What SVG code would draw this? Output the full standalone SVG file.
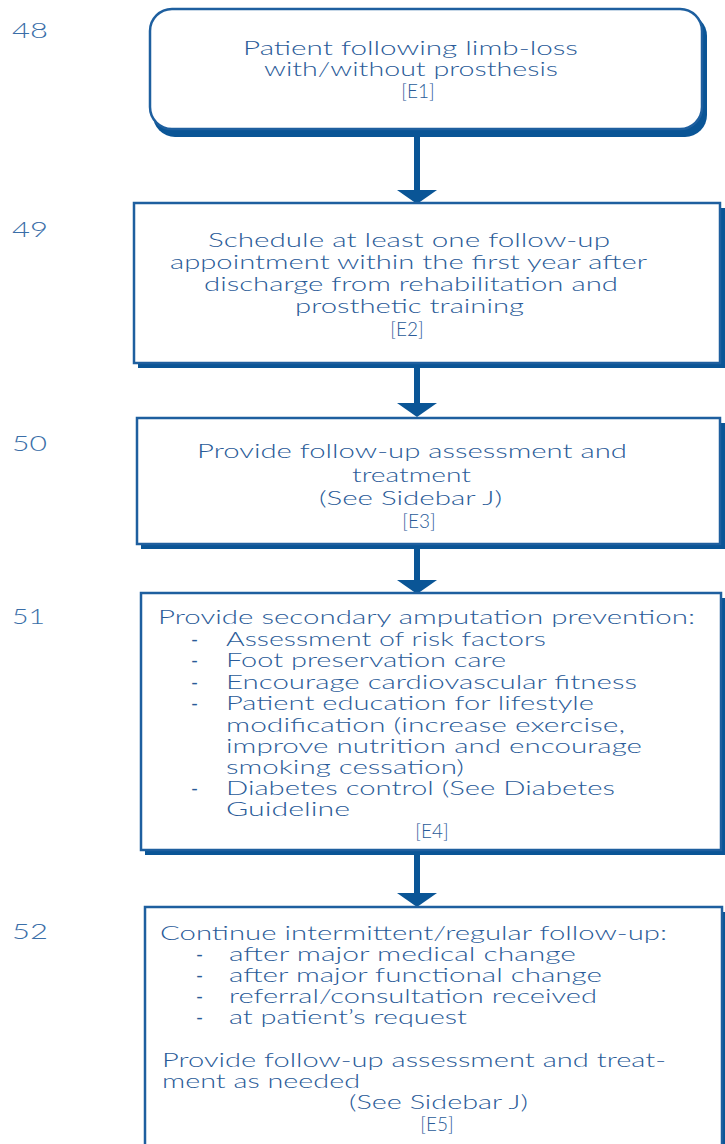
<svg xmlns="http://www.w3.org/2000/svg" width="725" height="1144" viewBox="0 0 725 1144">
<style>
.bg{fill:#ffffff}
.sh{fill:#0a5596}
.bx{fill:#ffffff;stroke:#1e5f9f;stroke-width:2.5}
.t{font-family:Lato,"Open Sans","Liberation Sans",sans-serif;font-weight:300;font-size:19.5px;fill:#2a5b98}
.t2{font-family:Lato,"Open Sans","Liberation Sans",sans-serif;font-weight:300;font-size:19px;fill:#2a5b98}
.e{font-family:Lato,"Open Sans","Liberation Sans",sans-serif;font-weight:300;font-size:19px;fill:#2a5b98;text-anchor:middle}
.d{font-family:Lato,"Open Sans","Liberation Sans",sans-serif;font-weight:400;font-size:19px;fill:#2a5b98}
.n{font-family:Lato,"Open Sans","Liberation Sans",sans-serif;font-weight:300;font-size:21px;fill:#3a6ea8}
.c{stroke:#0a5596;stroke-width:6;fill:none}
</style>
<defs>
<marker id="ah" viewBox="0 0 14 40" markerWidth="14" markerHeight="40" refX="0" refY="20" orient="auto" markerUnits="userSpaceOnUse">
<path d="M0,0 L14,20 L0,40 Z" fill="#0a5596"/>
</marker>
</defs>
<rect class="bg" x="0" y="0" width="725" height="1144"/>

<g id="labels">
<text class="n" x="12" y="38" textLength="36" lengthAdjust="spacingAndGlyphs">48</text>
<text class="n" x="12" y="237" textLength="36" lengthAdjust="spacingAndGlyphs">49</text>
<text class="n" x="12" y="451" textLength="35" lengthAdjust="spacingAndGlyphs">50</text>
<text class="n" x="12" y="624" textLength="33" lengthAdjust="spacingAndGlyphs">51</text>
<text class="n" x="12" y="939" textLength="36" lengthAdjust="spacingAndGlyphs">52</text>
</g>

<g id="connectors">
<path class="c" d="M417,136 V190" marker-end="url(#ah)"/>
<path class="c" d="M417,367 V403" marker-end="url(#ah)"/>
<path class="c" d="M417,547 V580" marker-end="url(#ah)"/>
<path class="c" d="M417,854 V893" marker-end="url(#ah)"/>
</g>

<g id="node48">
<rect class="sh" x="153" y="14" width="554" height="123" rx="22"/>
<rect class="bx" x="150" y="9" width="552" height="120" rx="22"/>
<text class="t" x="243" y="55" textLength="335" lengthAdjust="spacingAndGlyphs">Patient following limb-loss</text>
<text class="t" x="264" y="76" textLength="294" lengthAdjust="spacingAndGlyphs">with/without prosthesis</text>
<text class="e" x="418" y="98">[E1]</text>
</g>

<g id="node49">
<rect class="sh" x="138" y="208" width="587" height="160"/>
<rect class="bx" x="134" y="203" width="586" height="160"/>
<text class="t" x="208" y="247" textLength="402" lengthAdjust="spacingAndGlyphs">Schedule at least one follow-up</text>
<text class="t" x="170" y="269" textLength="477" lengthAdjust="spacingAndGlyphs">appointment within the first year after</text>
<text class="t" x="204" y="291" textLength="414" lengthAdjust="spacingAndGlyphs">discharge from rehabilitation and</text>
<text class="t" x="295" y="313" textLength="229" lengthAdjust="spacingAndGlyphs">prosthetic training</text>
<text class="e" x="407" y="336">[E2]</text>
</g>

<g id="node50">
<rect class="sh" x="141" y="423" width="584" height="126"/>
<rect class="bx" x="137" y="418" width="583" height="126"/>
<text class="t" x="197" y="458" textLength="430" lengthAdjust="spacingAndGlyphs">Provide follow-up assessment and</text>
<text class="t" x="352" y="482" textLength="119" lengthAdjust="spacingAndGlyphs">treatment</text>
<text class="t" x="319" y="505" textLength="183" lengthAdjust="spacingAndGlyphs">(See Sidebar J)</text>
<text class="e" x="419" y="528">[E3]</text>
</g>

<g id="node51">
<rect class="sh" x="145" y="598" width="580" height="257"/>
<rect class="bx" x="141" y="593" width="580" height="257"/>
<text class="t2" x="158" y="624" textLength="537" lengthAdjust="spacingAndGlyphs">Provide secondary amputation prevention:</text>
<text class="d" x="191" y="646">-</text>
<text class="t2" x="226" y="646" textLength="320" lengthAdjust="spacingAndGlyphs">Assessment of risk factors</text>
<text class="d" x="191" y="667">-</text>
<text class="t2" x="226" y="667" textLength="280" lengthAdjust="spacingAndGlyphs">Foot preservation care</text>
<text class="d" x="191" y="689">-</text>
<text class="t2" x="226" y="689" textLength="411" lengthAdjust="spacingAndGlyphs">Encourage cardiovascular fitness</text>
<text class="d" x="191" y="710">-</text>
<text class="t2" x="226" y="710" textLength="368" lengthAdjust="spacingAndGlyphs">Patient education for lifestyle</text>
<text class="t2" x="226" y="732" textLength="399" lengthAdjust="spacingAndGlyphs">modification (increase exercise,</text>
<text class="t2" x="226" y="753" textLength="416" lengthAdjust="spacingAndGlyphs">improve nutrition and encourage</text>
<text class="t2" x="226" y="774" textLength="238" lengthAdjust="spacingAndGlyphs">smoking cessation)</text>
<text class="d" x="191" y="795">-</text>
<text class="t2" x="226" y="795" textLength="389" lengthAdjust="spacingAndGlyphs">Diabetes control (See Diabetes</text>
<text class="t2" x="226" y="816" textLength="124" lengthAdjust="spacingAndGlyphs">Guideline</text>
<text class="e" x="432" y="838">[E4]</text>
</g>

<g id="node52">
<rect class="sh" x="149" y="912" width="576" height="250"/>
<rect class="bx" x="145" y="907" width="577" height="250"/>
<text class="t2" x="160" y="940" textLength="507" lengthAdjust="spacingAndGlyphs">Continue intermittent/regular follow-up:</text>
<text class="d" x="196" y="961">-</text>
<text class="t2" x="229" y="961" textLength="347" lengthAdjust="spacingAndGlyphs">after major medical change</text>
<text class="d" x="196" y="982">-</text>
<text class="t2" x="229" y="982" textLength="373" lengthAdjust="spacingAndGlyphs">after major functional change</text>
<text class="d" x="196" y="1003">-</text>
<text class="t2" x="229" y="1003" textLength="368" lengthAdjust="spacingAndGlyphs">referral/consultation received</text>
<text class="d" x="196" y="1024">-</text>
<text class="t2" x="229" y="1024" textLength="238" lengthAdjust="spacingAndGlyphs">at patient’s request</text>
<text class="t2" x="162" y="1067" textLength="504" lengthAdjust="spacingAndGlyphs">Provide follow-up assessment and treat-</text>
<text class="t2" x="162" y="1088" textLength="198" lengthAdjust="spacingAndGlyphs">ment as needed</text>
<text class="t2" x="349" y="1109" textLength="179" lengthAdjust="spacingAndGlyphs">(See Sidebar J)</text>
<text class="e" x="437" y="1131">[E5]</text>
</g>
</svg>
